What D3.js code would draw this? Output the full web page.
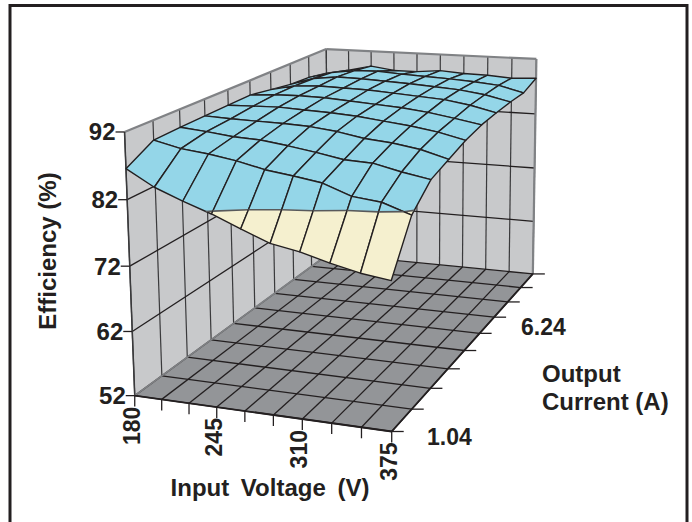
<!DOCTYPE html>
<html><head><meta charset="utf-8">
<script src="https://cdn.jsdelivr.net/npm/d3@7"></script>
<style>html,body{margin:0;padding:0;background:#fff;overflow:hidden}svg{display:block}text{font-family:"Liberation Sans",Arial,sans-serif;font-weight:bold;fill:#231f20}</style>
</head><body><div id="c"></div>
<script>
const voltages=[180,201.67,223.33,245,266.67,288.33,310,331.67,353.33,375];
const currents=[1.04,2.08,3.12,4.16,5.2,6.24,7.28,8.32,9.36,10.4];
const effTicks=[52,62,72,82,92];
const voltageLabels=[180,245,310,375];
const currentLabels=[1.04,6.24];
const eff_104=[86.6,84.2,82.5,81.0,79.2,77.5,76.7,75.5,74.5,73.9];
const eff_208=[89.0,88.0,87.5,86.8,85.8,85.2,84.5,82.9,82.4,80.9];
const eff_312=[89.2,88.8,88.3,88.1,87.5,86.8,86.0,85.8,84.8,84.0];
const eff_416=[89.3,89.1,89.0,88.9,88.7,88.2,87.4,87.0,86.3,85.1];
const eff_520=[89.4,89.5,89.6,89.4,89.2,88.9,88.4,87.9,87.2,86.2];
const eff_624=[89.5,89.8,89.9,89.8,89.5,89.2,88.9,88.4,87.7,86.9];
const eff_728=[88.9,89.8,90.0,89.9,89.8,89.5,89.2,88.9,88.2,87.2];
const eff_832=[88.3,89.6,90.1,90.0,89.8,89.6,89.3,89.0,88.4,87.4];
const eff_936=[88.1,89.2,89.8,89.9,89.6,89.4,89.2,88.9,88.5,87.4];
const eff_1040=[87.4,88.2,89.2,88.6,88.6,89.0,88.7,88.6,88.3,88.5];
const efficiency=[eff_104,eff_208,eff_312,eff_416,eff_520,eff_624,eff_728,eff_832,eff_936,eff_1040];
const bandLevel=81.3;

const W=692,H=522;
const svg=d3.select('#c').append('svg').attr('width',W).attr('height',H);
const su=d3.scaleLinear().domain([180,375]).range([0,1]);
const sv=d3.scaleLinear().domain([1.04,10.4]).range([0,1]);
const sw=d3.scaleLinear().domain([52,92]).range([0,1]);

// camera: fitted to the seven visible corners of the plot box
const anchors=[[0,0,0,135,397],[1,0,0,392,430],[1,1,0,533,276],[0,1,0,328,252],[0,0,1,124,132],[0,1,1,327,50],[1,1,1,536,58]];
function fit(){
  const S=500,A=[],b=[];
  anchors.forEach(([u,v,w,x,y])=>{x/=S;y/=S;
    A.push([u,v,w,1,0,0,0,0,-x*u,-x*v,-x*w]);b.push(x);
    A.push([0,0,0,0,u,v,w,1,-y*u,-y*v,-y*w]);b.push(y);});
  const n=11,M=d3.range(n).map(r=>d3.range(n+1).map(c=>{
    let s=0;A.forEach((row,k)=>{s+=row[r]*(c<n?row[c]:b[k]);});return s+(r===c?1e-9:0);}));
  for(let i=0;i<n;i++){let p=i;for(let r=i+1;r<n;r++)if(Math.abs(M[r][i])>Math.abs(M[p][i]))p=r;
    [M[i],M[p]]=[M[p],M[i]];
    for(let r=0;r<n;r++)if(r!==i){const f=M[r][i]/M[i][i];for(let c=i;c<=n;c++)M[r][c]-=f*M[i][c];}}
  const h=M.map((r,i)=>r[n]/r[i]);
  return (u,v,w)=>{const d=h[8]*u+h[9]*v+h[10]*w+1;
    return [S*(h[0]*u+h[1]*v+h[2]*w+h[3])/d,S*(h[4]*u+h[5]*v+h[6]*w+h[7])/d];};
}
const cam=fit();
const P=(volt,cur,eff)=>cam(su(volt),sv(cur),sw(eff));
const line=d3.line();
const closed=pts=>line(pts)+'Z';
const vMin=voltages[0],vMax=voltages[9],iMin=currents[0],iMax=currents[9],zMin=effTicks[0],zMax=effTicks[4];
const ink='#231f20';
function seg(a,b,col=ink,w=1.3){svg.append('path').attr('d',line([a,b])).attr('stroke',col).attr('stroke-width',w).attr('fill','none');}

// frame
svg.append('rect').attr('x',10).attr('y',5.5).attr('width',677).attr('height',530).attr('fill','#fff').attr('stroke',ink).attr('stroke-width',3);

// walls
svg.append('path').attr('d',closed([P(vMin,iMin,zMin),P(vMin,iMax,zMin),P(vMin,iMax,zMax),P(vMin,iMin,zMax)])).attr('fill','#c8c9cb');
svg.append('path').attr('d',closed([P(vMin,iMax,zMin),P(vMax,iMax,zMin),P(vMax,iMax,zMax),P(vMin,iMax,zMax)])).attr('fill','#c8c9cb');
currents.forEach(c=>seg(P(vMin,c,zMin),P(vMin,c,zMax),'#3a3a3c',1.2));
voltages.forEach(v=>seg(P(v,iMax,zMin),P(v,iMax,zMax),'#3a3a3c',1.2));
effTicks.slice(1,4).forEach(z=>{seg(P(vMin,iMin,z),P(vMin,iMax,z),ink,1.3);seg(P(vMin,iMax,z),P(vMax,iMax,z),ink,1.3);});
seg(P(vMin,iMin,zMax),P(vMin,iMax,zMax),'#808285',2.2);
seg(P(vMin,iMax,zMax),P(vMax,iMax,zMax),'#808285',2.2);
seg(P(vMax,iMax,zMin),P(vMax,iMax,zMax),'#808285',2.2);
seg(P(vMin,iMin,zMin),P(vMin,iMin,zMax),'#3a3a3c',1.5);

// floor
svg.append('path').attr('d',closed([P(vMin,iMin,zMin),P(vMax,iMin,zMin),P(vMax,iMax,zMin),P(vMin,iMax,zMin)])).attr('fill','#939598');
currents.forEach(c=>seg(P(vMin,c,zMin),P(vMax,c,zMin)));
voltages.forEach(v=>seg(P(v,iMin,zMin),P(v,iMax,zMin)));
seg(P(vMin,iMin,zMin),P(vMin,iMax,zMin),'#808285',1.8);
seg(P(vMin,iMin,zMin),P(vMax,iMin,zMin),ink,1.8);
seg(P(vMax,iMin,zMin),P(vMax,iMax,zMin),ink,1.8);

// ticks
voltages.forEach(v=>{const p=P(v,iMin,zMin);seg(p,[p[0],p[1]+11]);});
currents.forEach(c=>{const p=P(vMax,c,zMin);seg(p,[p[0]+12,p[1]]);});
effTicks.forEach(z=>{const p=P(vMin,iMin,z);seg(p,[p[0]-9,p[1]]);});

// surface, back to front
function clip(poly,keepAbove){
  const out=[];
  poly.forEach((a,k)=>{const b=poly[(k+1)%poly.length];
    const ia=keepAbove?a[2]>=bandLevel:a[2]<=bandLevel, ib=keepAbove?b[2]>=bandLevel:b[2]<=bandLevel;
    if(ia)out.push(a);
    if(ia!==ib){const t=(bandLevel-a[2])/(b[2]-a[2]);out.push([a[0]+t*(b[0]-a[0]),a[1]+t*(b[1]-a[1]),bandLevel]);}
  });
  return out;
}
const blue='#94d6e8',cream='#f5f0cf';
for(let j=8;j>=0;j--)for(let i=0;i<9;i++){
  const q=[[voltages[i],currents[j],efficiency[j][i]],[voltages[i+1],currents[j],efficiency[j][i+1]],[voltages[i+1],currents[j+1],efficiency[j+1][i+1]],[voltages[i],currents[j+1],efficiency[j+1][i]]];
  const up=clip(q,true),dn=clip(q,false);
  const toXY=r=>P(r[0],r[1],r[2]);
  if(up.length>2)svg.append('path').attr('d',closed(up.map(toXY))).attr('fill',blue).attr('stroke',blue).attr('stroke-width',.3);
  if(dn.length>2)svg.append('path').attr('d',closed(dn.map(toXY))).attr('fill',cream).attr('stroke',cream).attr('stroke-width',.3);
  svg.append('path').attr('d',closed(q.map(toXY))).attr('fill','none').attr('stroke',ink).attr('stroke-width',1.4).attr('stroke-linejoin','round');
  const cross=up.filter(r=>r[2]===bandLevel);
  if(cross.length===2)seg(toXY(cross[0]),toXY(cross[1]),'#58595b',1.6);
}

// labels
const txt=(s,x,y,anchor='start',size=24,rot=null)=>{const t=svg.append('text').text(s).attr('font-size',size).attr('text-anchor',anchor).attr('dominant-baseline','central');
  if(rot===null)t.attr('x',x).attr('y',y);else t.attr('transform',`translate(${x},${y}) rotate(${rot})`);return t;};
effTicks.forEach(z=>{const p=P(vMin,iMin,z);txt(z,p[0]-9,p[1],'end',24);});
voltageLabels.forEach(v=>{const p=P(v,iMin,zMin);txt(v,p[0]-3,p[1]+11,'end',23,-90);});
txt(currentLabels[0],427,437,'start',23);
txt(currentLabels[1],521,327,'start',23);
txt('Output',542,373);
txt('Current (A)',542,401);
txt('Input Voltage (V)',270,487,'middle').attr('word-spacing',5);
txt('Efficiency (%)',47,251,'middle',24,-90);
</script></body></html>
